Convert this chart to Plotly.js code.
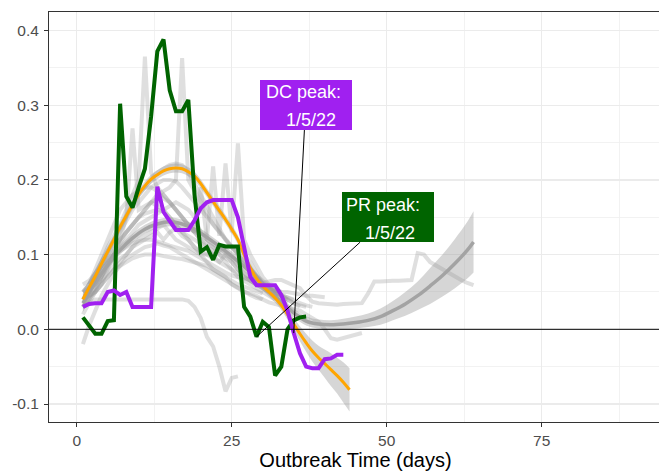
<!DOCTYPE html>
<html><head><meta charset="utf-8">
<script src="https://cdn.plot.ly/plotly-3.0.1.min.js"></script>
<style>html,body{margin:0;padding:0;overflow:hidden;background:#fff}#chart{width:662px;height:471px}</style>
</head><body><div id="chart"></div>
<script>
// ---- tick labels ----
const xTickVals = [0, 25, 50, 75];
const xTickText = ['0', '25', '50', '75'];
const yTickVals = [-0.1, 0, 0.1, 0.2, 0.3, 0.4];
const yTickText = ['-0.1', '0.0', '0.1', '0.2', '0.3', '0.4'];

// ---- background (other places) series: first day + daily values ----
const grayA_start = 1, grayA = [0.030,0.050,0.070,0.090,0.110,0.125,0.140,0.160,0.180,0.200,0.365,0.210,0.190,0.180,0.170,0.160,0.150,0.140,0.130,0.120,0.110,0.100,0.090,0.085,0.080,0.075,0.070,0.065,0.060,0.055,0.050,0.045,0.040,0.035];
const grayB_start = 1, grayB = [0.040,0.050,0.065,0.080,0.095,0.110,0.120,0.130,0.140,0.150,0.160,0.170,0.180,0.185,0.190,0.200,0.363,0.200,0.185,0.170,0.155,0.140,0.130,0.120,0.110,0.100,0.090,0.080,0.070,0.060,0.055,0.050,0.045,0.040,0.035,0.030];
const grayC_start = 1, grayC = [0.020,0.035,0.050,0.070,0.090,0.105,0.120,0.150,0.269,0.160,0.165,0.170,0.165,0.160,0.150,0.140,0.130,0.120,0.110,0.100,0.090,0.080,0.075,0.070,0.060,0.055,0.050,0.048,0.045,0.040];
const grayD_start = 1, grayD = [0.050,0.060,0.070,0.080,0.090,0.100,0.110,0.120,0.130,0.140,0.145,0.150,0.155,0.160,0.165,0.170,0.165,0.160,0.150,0.130,0.120,0.218,0.125,0.222,0.130,0.249,0.120,0.100,0.085,0.070,0.060,0.050,0.045,0.040,0.035,0.032,0.030];
const grayE_start = 1, grayE = [0.060,0.065,0.075,0.085,0.095,0.100,0.105,0.110,0.115,0.118,
  0.120,0.120,0.118,0.115,0.112,0.110,0.108,0.105,0.100,0.095,
  0.090,0.085,0.080,0.076,0.072,0.070,0.068,0.066,0.064,0.062,
  0.064,0.066,0.066,0.062,0.058,0.055,0.045,0.037,0.035,0.034,
  0.033,0.033,0.034,0.034,0.035,0.035,0.048,0.064,0.064,0.065,
  0.065,0.065,0.066,0.066,0.102,0.100,0.090,0.085,0.080,0.075,
  0.070,0.066,0.062,0.059];
const grayF_start = 1, grayF = [0.030,0.035,0.040,0.040,0.040,0.040,0.040,0.040,0.040,0.040,0.040,0.040,0.040,0.040,0.040,0.040,0.040,0.038,0.030,0.015,-0.010,-0.023,-0.050,-0.083,-0.065,-0.063];
const grayG_start = 1, grayG = [-0.020,0.005,0.025,0.045,0.060,0.075,0.085,0.095,0.100,0.105,
  0.110,0.112,0.115,0.112,0.110,0.105,0.100,0.095,0.090,0.085,
  0.080,0.075,0.070,0.065,0.060,0.055,0.050,0.046,0.042,0.040,
  0.036,0.034,0.032,0.030,0.028,0.025,0.020,0.015,0.010,0.000,
  -0.012,-0.014,-0.012,-0.010,-0.007,-0.005];
const grayH_start = 1, grayH = [0.040,0.055,0.070,0.085,0.100,0.115,0.130,0.145,0.160,0.170,0.180,0.190,0.195,0.200,0.200,0.198,0.190,0.180,0.170,0.160,0.150,0.140,0.130,0.120,0.110,0.100,0.090,0.080,0.072,0.065,0.058,0.052,0.046,0.042,0.038,0.035,0.032,0.030];
const grayI_start = 1, grayI = [0.030,0.040,0.055,0.070,0.085,0.100,0.115,0.130,0.140,0.150,0.155,0.158,0.160,0.158,0.150,0.140,0.130,0.125,0.120,0.115,0.110,0.105,0.100,0.095,0.090,0.080,0.070,0.065,0.060,0.057,0.055,0.052,0.050];
const grayJ_start = 1, grayJ = [0.050,0.055,0.060,0.065,0.075,0.085,0.095,0.100,0.110,0.115,0.120,0.125,0.130,0.120,0.130,0.135,0.125,0.120,0.110,0.105,0.100,0.095,0.090,0.100,0.095,0.085,0.075,0.065,0.060,0.055,0.050,0.048,0.045,0.042,0.040];
const grayK_start = 2, grayK = [0.060,0.075,0.090,0.105,0.120,0.135,0.150,0.165,0.180,0.190,0.200,0.210,0.215,0.220,0.222,0.220,0.210,0.195,0.180,0.165,0.150,0.135,0.120,0.110,0.100,0.090,0.080,0.070,0.062,0.055,0.050,0.045];
const grayL_start = 1, grayL = [0.040,0.045,0.050,0.060,0.070,0.080,0.085,0.090,0.095,0.098,0.100,0.100,0.100,0.098,0.096,0.095,0.094,0.092,0.090,0.088,0.085,0.080,0.075,0.070,0.065,0.060,0.057,0.054,0.050,0.048];
const grayM_start = 1, grayM = [0.040,0.045,0.050,0.060,0.070,0.080,0.090,0.100,0.110,0.120,0.125,0.130,0.135,0.140,0.130,0.120,0.115,0.110,0.105,0.100,0.100,0.100,0.105,0.110,0.110,0.110,0.100,0.090,0.075,0.060,0.055,0.052,0.050,0.050,0.048,0.046,0.045,0.045,0.044,0.043];
const grayN_start = 1, grayN = [0.050,0.060,0.080,0.100,0.120,0.140,0.160,0.170,0.180,0.185,0.190,0.190,0.185,0.175,0.170,0.160,0.150,0.140,0.130,0.190,0.120,0.110,0.100,0.090,0.080,0.070,0.065,0.060,0.055,0.050,0.045,0.040];
const grayO_start = 1, grayO = [0.030,0.040,0.050,0.060,0.080,0.100,0.120,0.130,0.140,0.150,0.160,0.170,0.175,0.180,0.170,0.160,0.150,0.140,0.130,0.120,0.115,0.110,0.105,0.100,0.090,0.080,0.075,0.070,0.065,0.060,0.055,0.050,0.045,0.040];

// ---- overall smooth (gray) ----
const smoothX  = [1,3,5,7,9,11,13,15,17,19,21,23,25,27,29,31,33,35,37,39,41,43,45,47,49,51,53,55,57,59,61,63,64];
const smoothY  = [0.035,0.062,0.086,0.106,0.122,0.134,0.141,0.144,0.141,0.134,0.123,0.111,0.098,0.084,0.068,0.052,0.037,0.022,0.011,0.007,0.006,0.007,0.009,0.012,0.017,0.025,0.034,0.045,0.058,0.072,0.088,0.106,0.117];
const smoothSE = [0.012,0.009,0.007,0.006,0.006,0.006,0.006,0.006,0.006,0.006,0.006,0.006,0.006,0.006,0.006,0.006,0.006,0.006,0.006,0.006,0.006,0.007,0.008,0.009,0.011,0.013,0.016,0.019,0.024,0.028,0.033,0.038,0.041];

// ---- orange smooth (days 1..44) ----
const orangeY  = [0.040,0.056,0.071,0.088,0.104,0.120,0.137,0.152,0.167,0.181,0.192,0.201,0.207,0.212,0.215,0.216,0.215,0.211,0.205,0.195,0.183,0.171,0.159,0.147,0.134,0.120,0.100,0.082,0.068,0.058,0.050,0.042,0.032,0.020,0.007,-0.006,-0.018,-0.029,-0.038,-0.046,-0.054,-0.062,-0.071,-0.081];
const orangeSE = [0.012,0.010,0.009,0.008,0.007,0.006,0.006,0.006,0.006,0.006,0.006,0.006,0.006,0.006,0.006,0.006,0.006,0.006,0.006,0.006,0.006,0.006,0.006,0.006,0.006,0.006,0.006,0.006,0.006,0.006,0.006,0.006,0.006,0.007,0.008,0.010,0.012,0.014,0.016,0.019,0.022,0.024,0.027,0.029];

// ---- PR (green), days 1..37 ----
const prY = [0.016,0.005,-0.006,-0.006,0.011,0.012,0.302,0.178,0.163,0.190,0.215,0.285,0.372,0.388,0.320,0.292,0.292,0.307,0.180,0.104,0.110,0.093,0.113,0.111,0.111,0.111,0.030,0.017,-0.010,0.010,0.003,-0.062,-0.050,0.000,0.012,0.016,0.017];
// ---- DC (purple), days 1..43 ----
const dcY = [0.030,0.034,0.035,0.035,0.050,0.052,0.046,0.050,0.030,0.030,0.030,0.030,0.191,0.157,0.145,0.133,0.133,0.133,0.146,0.162,0.170,0.173,0.173,0.173,0.173,0.150,0.110,0.070,0.059,0.059,0.059,0.059,0.046,0.025,-0.005,-0.032,-0.050,-0.052,-0.052,-0.040,-0.039,-0.034,-0.034];

const dcPeakDay = 35, prPeakDay = 29;
const dcLabel = ['DC peak:', '\u00A0\u00A01/5/22'];
const prLabel = ['PR peak:', '\u00A0\u00A01/5/22'];

const days = (start, n) => Array.from({length: n}, (_, i) => start + i);

const grays = [[grayA_start,grayA],[grayB_start,grayB],[grayC_start,grayC],[grayD_start,grayD],[grayE_start,grayE],[grayF_start,grayF],[grayG_start,grayG],[grayH_start,grayH],[grayI_start,grayI],[grayJ_start,grayJ],[grayK_start,grayK],[grayL_start,grayL],[grayM_start,grayM],[grayN_start,grayN],[grayO_start,grayO]];

const traces = [];
grays.forEach(([s, v]) => traces.push({
  x: days(s, v.length), y: v, mode: 'lines', type: 'scatter', hoverinfo: 'skip',
  line: {color: 'rgba(150,150,150,0.30)', width: 4}
}));

// gray smooth ribbon + line
traces.push({x: smoothX, y: smoothY.map((v,i)=>v - smoothSE[i]), mode:'lines', line:{width:0, shape:'spline'}, hoverinfo:'skip'});
traces.push({x: smoothX, y: smoothY.map((v,i)=>v + smoothSE[i]), mode:'lines', line:{width:0, shape:'spline'}, fill:'tonexty', fillcolor:'rgba(153,153,153,0.4)', hoverinfo:'skip'});
traces.push({x: smoothX, y: smoothY, mode:'lines', line:{color:'#A3A3A3', width:3.5, shape:'spline'}});

// orange smooth ribbon + line
const oX = days(1, orangeY.length);
traces.push({x: oX, y: orangeY.map((v,i)=>v - orangeSE[i]), mode:'lines', line:{width:0, shape:'spline'}, hoverinfo:'skip'});
traces.push({x: oX, y: orangeY.map((v,i)=>v + orangeSE[i]), mode:'lines', line:{width:0, shape:'spline'}, fill:'tonexty', fillcolor:'rgba(153,153,153,0.4)', hoverinfo:'skip'});
traces.push({x: oX, y: orangeY, mode:'lines', line:{color:'#FFA500', width:3, shape:'spline'}});

// PR and DC
const prX = days(1, prY.length), dcX = days(1, dcY.length);
traces.push({x: prX, y: prY, mode:'lines', line:{color:'#006400', width:4}});
traces.push({x: dcX, y: dcY, mode:'lines', line:{color:'#A020F0', width:4}});

const FONT = 'Liberation Sans, Arial, sans-serif';
const dcTipY = dcY[dcPeakDay - 1], prTipY = prY[prPeakDay - 1];

function labelAnns(xd, yd, color, lines, ax, ay, l1, l2) {
  return [
    {x: xd, y: yd, xref:'x', yref:'y', text:' ', showarrow:true, arrowhead:0, arrowwidth:1, arrowcolor:'#000',
     ax: ax, ay: ay, width: 86, height: 44, borderpad: 3, borderwidth: 0, bgcolor: color, standoff: 0},
    {x: xd, y: yd, xref:'x', yref:'y', text: lines[0], showarrow:false, xshift:l1[0], yshift:l1[1],
     font:{family:FONT, size:18, color:'#fff'}, xanchor:'center', yanchor:'middle'},
    {x: xd, y: yd, xref:'x', yref:'y', text: lines[1], showarrow:false, xshift:l2[0], yshift:l2[1],
     font:{family:FONT, size:18, color:'#fff'}, xanchor:'center', yanchor:'middle'}
  ];
}

const annotations = [].concat(
  labelAnns(dcPeakDay, dcTipY, '#A020F0', dcLabel, 12, -228, [9.6, 240.8], [12, 212.7]),
  labelAnns(prPeakDay, prTipY, '#006400', prLabel, 131, -119.6, [126.8, 132.1], [128.5, 103.8])
);

const axisCommon = {
  showgrid: true, gridcolor: '#EBEBEB', gridwidth: 1.3, zeroline: false,
  showline: true, linecolor: '#333333', linewidth: 1, mirror: true,
  ticks: 'outside', ticklen: 4, tickwidth: 1, tickcolor: '#333333',
  tickfont: {family: FONT, size: 15.5, color: '#4D4D4D'}, automargin: false, tickmode: 'array'
};

const layout = {
  width: 662, height: 471,
  margin: {l: 49, r: 0, t: 12, b: 49},
  paper_bgcolor: '#fff', plot_bgcolor: '#fff', showlegend: false,
  font: {family: FONT},
  xaxis: Object.assign({}, axisCommon, {
    range: [-4.47, 94.4], tickvals: xTickVals, ticktext: xTickText,
    minor: {dtick: 12.5, tick0: 0, showgrid: true, gridcolor: '#EFEFEF', gridwidth: 0.8, ticks: ''},
    title: {text: 'Outbreak Time (days)', font: {family: FONT, size: 20, color: '#000'}, standoff: 5}
  }),
  yaxis: Object.assign({}, axisCommon, {
    range: [-0.1241, 0.4248], tickvals: yTickVals, ticktext: yTickText, ticklabelstandoff: 2,
    minor: {dtick: 0.05, tick0: 0, showgrid: true, gridcolor: '#EFEFEF', gridwidth: 0.8, ticks: ''}
  }),
  shapes: [{type:'line', xref:'paper', x0:0, x1:1, yref:'y', y0:0, y1:0, line:{color:'#000', width:1}, layer:'above'}],
  annotations: annotations
};

Plotly.newPlot('chart', traces, layout, {displayModeBar: false, staticPlot: true});
</script></body></html>
